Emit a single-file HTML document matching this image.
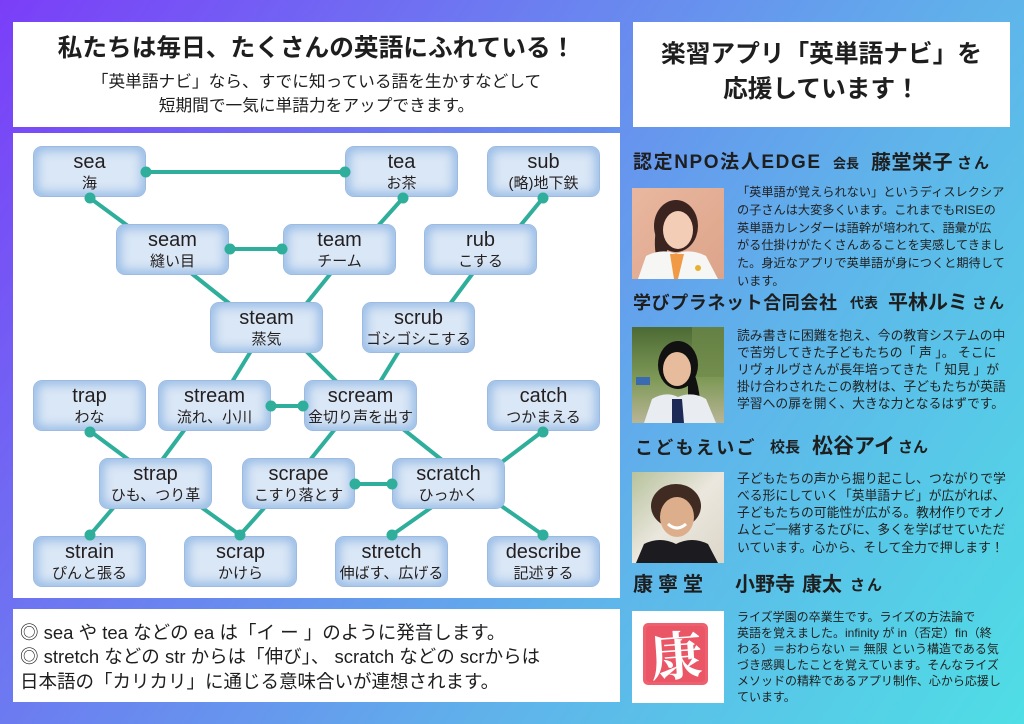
<!DOCTYPE html>
<html lang="ja">
<head>
<meta charset="utf-8">
<style>
*{margin:0;padding:0}
html,body{width:1024px;height:724px;overflow:hidden}
body{position:relative;background:linear-gradient(125deg,#7b3ef8 0%,#6b80f0 36%,#5fb4ea 66%,#4fdee5 100%);font-family:"Liberation Sans","Noto Sans CJK JP",sans-serif;color:#1e1e1e}
.box{position:absolute;background:#fff}
.l{position:absolute;white-space:nowrap;font-family:"Liberation Sans","Noto Sans CJK JP",sans-serif}
.b{font-weight:700}
.c{text-align:center}
.n{position:absolute;width:113px;height:51px;box-sizing:border-box;border:1.5px solid #9dbbe2;border-radius:9px;background:#dae7f6;box-shadow:inset 0 0 10px 4px rgba(146,184,228,.9);text-align:center;color:#231f20;z-index:3}
.n .e{display:block;font:400 20px/22px "Liberation Sans",sans-serif;margin-top:4px}
.n .j{display:block;font:400 15px/20px "Liberation Sans","Noto Sans CJK JP",sans-serif;margin-top:1px}
.p{position:absolute;left:737px;white-space:nowrap;color:#222;font-family:"Liberation Sans","Noto Sans CJK JP",sans-serif}
.ph{position:absolute;left:632px;width:92px}
</style>
</head>
<body>

<!-- top-left title box -->
<div class="box" style="left:13px;top:22px;width:607px;height:105px"></div>
<div class="l b c" style="left:13px;width:607px;top:33px;font-size:24.7px;line-height:32px">私たちは毎日、たくさんの英語にふれている！</div>
<div class="l c" style="left:13px;width:607px;top:70px;font-size:16.7px;line-height:24px">「英単語ナビ」なら、すでに知っている語を生かすなどして</div>
<div class="l c" style="left:13px;width:607px;top:94px;font-size:16.7px;line-height:24px">短期間で一気に単語力をアップできます。</div>

<!-- diagram box -->
<div class="box" style="left:13px;top:133px;width:607px;height:465px"></div>

<svg style="position:absolute;left:0;top:0;z-index:2" width="1024" height="724" viewBox="0 0 1024 724">
<g stroke="#2eae9b" stroke-width="4" stroke-linecap="round" fill="none">
<line x1="146" y1="172" x2="345" y2="172"/>
<line x1="90" y1="198" x2="128" y2="226"/>
<line x1="403" y1="198" x2="378" y2="226"/>
<line x1="543" y1="198" x2="520" y2="226"/>
<line x1="230" y1="249" x2="282" y2="249"/>
<line x1="191" y1="273" x2="230" y2="304"/>
<line x1="331" y1="273" x2="306" y2="304"/>
<line x1="473" y1="273" x2="450" y2="304"/>
<line x1="251" y1="351" x2="232" y2="382"/>
<line x1="306" y1="351" x2="337" y2="382"/>
<line x1="399" y1="351" x2="380" y2="382"/>
<line x1="271" y1="406" x2="303" y2="406"/>
<line x1="90" y1="431" x2="129" y2="460"/>
<line x1="185" y1="429" x2="162" y2="460"/>
<line x1="335" y1="429" x2="310" y2="460"/>
<line x1="403" y1="429" x2="442" y2="460"/>
<line x1="543" y1="431" x2="502" y2="462"/>
<line x1="355" y1="484" x2="392" y2="484"/>
<line x1="114" y1="507" x2="90" y2="535"/>
<line x1="201" y1="507" x2="240" y2="535"/>
<line x1="265" y1="507" x2="240" y2="535"/>
<line x1="432" y1="507" x2="392" y2="535"/>
<line x1="500" y1="505" x2="543" y2="535"/>
</g>
</svg>
<svg style="position:absolute;left:0;top:0;z-index:4" width="1024" height="724" viewBox="0 0 1024 724">
<g fill="#2eae9b">
<circle cx="146" cy="172" r="5.5"/><circle cx="345" cy="172" r="5.5"/>
<circle cx="90" cy="198" r="5.5"/><circle cx="403" cy="198" r="5.5"/><circle cx="543" cy="198" r="5.5"/>
<circle cx="230" cy="249" r="5.5"/><circle cx="282" cy="249" r="5.5"/>
<circle cx="271" cy="406" r="5.5"/><circle cx="303" cy="406" r="5.5"/>
<circle cx="90" cy="432" r="5.5"/><circle cx="543" cy="432" r="5.5"/>
<circle cx="355" cy="484" r="5.5"/><circle cx="392" cy="484" r="5.5"/>
<circle cx="90" cy="535" r="5.5"/><circle cx="240" cy="535" r="5.5"/><circle cx="392" cy="535" r="5.5"/><circle cx="543" cy="535" r="5.5"/>
</g>
</svg>

<!-- nodes -->
<div class="n" style="left:33px;top:146px"><span class="e">sea</span><span class="j">海</span></div>
<div class="n" style="left:345px;top:146px"><span class="e">tea</span><span class="j">お茶</span></div>
<div class="n" style="left:487px;top:146px"><span class="e">sub</span><span class="j">(略)地下鉄</span></div>

<div class="n" style="left:116px;top:224px"><span class="e">seam</span><span class="j">縫い目</span></div>
<div class="n" style="left:283px;top:224px"><span class="e">team</span><span class="j">チーム</span></div>
<div class="n" style="left:424px;top:224px"><span class="e">rub</span><span class="j">こする</span></div>

<div class="n" style="left:210px;top:302px"><span class="e">steam</span><span class="j">蒸気</span></div>
<div class="n" style="left:362px;top:302px"><span class="e">scrub</span><span class="j">ゴシゴシこする</span></div>

<div class="n" style="left:33px;top:380px"><span class="e">trap</span><span class="j">わな</span></div>
<div class="n" style="left:158px;top:380px"><span class="e">stream</span><span class="j">流れ、小川</span></div>
<div class="n" style="left:304px;top:380px"><span class="e">scream</span><span class="j">金切り声を出す</span></div>
<div class="n" style="left:487px;top:380px"><span class="e">catch</span><span class="j">つかまえる</span></div>

<div class="n" style="left:99px;top:458px"><span class="e">strap</span><span class="j">ひも、つり革</span></div>
<div class="n" style="left:242px;top:458px"><span class="e">scrape</span><span class="j">こすり落とす</span></div>
<div class="n" style="left:392px;top:458px"><span class="e">scratch</span><span class="j">ひっかく</span></div>

<div class="n" style="left:33px;top:536px"><span class="e">strain</span><span class="j">ぴんと張る</span></div>
<div class="n" style="left:184px;top:536px"><span class="e">scrap</span><span class="j">かけら</span></div>
<div class="n" style="left:335px;top:536px"><span class="e">stretch</span><span class="j">伸ばす、広げる</span></div>
<div class="n" style="left:487px;top:536px"><span class="e">describe</span><span class="j">記述する</span></div>

<!-- bottom note box -->
<div class="box" style="left:13px;top:609px;width:607px;height:93px"></div>
<div class="l" style="left:20px;top:620.5px;font-size:18.5px;line-height:24.5px">◎ sea や tea などの ea は「イ ー 」のように発音します。<br>◎ stretch などの str からは「伸び」、 scratch などの scrからは<br>日本語の「カリカリ」に通じる意味合いが連想されます。</div>

<!-- right title -->
<div class="box" style="left:633px;top:22px;width:377px;height:105px"></div>
<div class="l b c" style="left:633px;width:377px;top:37px;font-size:24.7px;line-height:36px">楽習アプリ「英単語ナビ」を</div>
<div class="l b c" style="left:633px;width:377px;top:72px;font-size:24.7px;line-height:36px">応援しています！</div>

<!-- name 1 -->
<div class="l b" style="left:633px;top:148px;font-size:19px;line-height:30px;letter-spacing:1.6px">認定NPO法人EDGE</div>
<div class="l b" style="left:833px;top:150px;font-size:13px;line-height:28px">会長</div>
<div class="l b" style="left:871px;top:148px;font-size:20px;line-height:30px;letter-spacing:0.5px">藤堂栄子</div>
<div class="l b" style="left:957px;top:150px;font-size:15px;line-height:28px;letter-spacing:2px">さん</div>

<!-- photo 1 -->
<svg class="ph" style="top:188px" width="92" height="91" viewBox="0 0 92 91">
<defs><linearGradient id="g1" x1="0" y1="0" x2="1" y2="1"><stop offset="0" stop-color="#e9b79f"/><stop offset="1" stop-color="#dca48a"/></linearGradient></defs>
<rect width="92" height="91" fill="url(#g1)"/>
<ellipse cx="44" cy="38" rx="22" ry="26" fill="#3b2420"/>
<path d="M24 40 Q20 70 30 78 L36 60Z" fill="#3b2420"/>
<ellipse cx="46" cy="42" rx="15" ry="19" fill="#f3cdb6"/>
<path d="M6 91 L14 68 Q30 60 44 66 Q58 60 74 68 L86 91Z" fill="#f6f6f4"/>
<path d="M38 66 L52 66 L46 91 L42 91Z" fill="#f19a45"/>
<circle cx="66" cy="80" r="3" fill="#e8b030"/>
</svg>

<!-- name 2 -->
<div class="l b" style="left:633px;top:288px;font-size:18px;line-height:30px;letter-spacing:0.6px">学びプラネット合同会社</div>
<div class="l b" style="left:850px;top:289px;font-size:14px;line-height:28px">代表</div>
<div class="l b" style="left:888px;top:288px;font-size:20px;line-height:30px">平林ルミ</div>
<div class="l b" style="left:972px;top:290px;font-size:15px;line-height:28px;letter-spacing:2px">さん</div>

<!-- photo 2 -->
<svg class="ph" style="top:327px" width="92" height="96" viewBox="0 0 92 96">
<defs><linearGradient id="g2" x1="0" y1="0" x2="0" y2="1"><stop offset="0" stop-color="#4c6a34"/><stop offset=".55" stop-color="#7f9a58"/><stop offset="1" stop-color="#b9b596"/></linearGradient></defs>
<rect width="92" height="96" fill="url(#g2)"/>
<rect x="60" y="0" width="32" height="50" fill="#6f8a4a" opacity=".7"/>
<rect x="4" y="50" width="14" height="8" fill="#3a6ab0"/>
<ellipse cx="46" cy="38" rx="20" ry="24" fill="#111"/>
<path d="M60 40 Q72 70 66 96 L56 96 L56 50Z" fill="#111"/>
<ellipse cx="45" cy="42" rx="14" ry="17" fill="#e6bc9c"/>
<path d="M12 96 L20 72 Q34 64 46 70 Q60 64 74 72 L84 96Z" fill="#e9edf2"/>
<path d="M40 72 L50 72 L52 96 L40 96Z" fill="#1d2a55"/>
</svg>

<!-- name 3 -->
<div class="l b" style="left:635px;top:433px;font-size:18px;line-height:30px;letter-spacing:2.3px">こどもえいご</div>
<div class="l b" style="left:770px;top:434px;font-size:15px;line-height:28px">校長</div>
<div class="l b" style="left:812px;top:432px;font-size:21px;line-height:30px">松谷アイ</div>
<div class="l b" style="left:898px;top:434px;font-size:15px;line-height:28px">さん</div>

<!-- photo 3 -->
<svg class="ph" style="top:472px" width="92" height="91" viewBox="0 0 92 91">
<defs><linearGradient id="g3" x1="0" y1="0" x2="1" y2="1"><stop offset="0" stop-color="#b6c29c"/><stop offset=".5" stop-color="#ebe7de"/><stop offset="1" stop-color="#dcd6c8"/></linearGradient></defs>
<rect width="92" height="91" fill="url(#g3)"/>
<ellipse cx="44" cy="34" rx="25" ry="22" fill="#3f2b22"/>
<ellipse cx="45" cy="45" rx="17" ry="20" fill="#dcae8c"/>
<path d="M36 52 Q45 60 54 52" stroke="#fff" stroke-width="3" fill="none"/>
<path d="M4 91 L12 72 Q28 64 44 72 Q60 64 76 72 L86 91Z" fill="#1c1c20"/>
</svg>

<!-- name 4 -->
<div class="l b" style="left:633px;top:570px;font-size:20px;line-height:30px;letter-spacing:5px">康寧堂</div>
<div class="l b" style="left:735px;top:570px;font-size:20px;line-height:30px">小野寺</div>
<div class="l b" style="left:802px;top:570px;font-size:20px;line-height:30px">康太</div>
<div class="l b" style="left:850px;top:572px;font-size:15px;line-height:28px;letter-spacing:2px">さん</div>

<!-- stamp -->
<svg class="ph" style="top:611px" width="92" height="92" viewBox="0 0 92 92">
<rect width="92" height="92" fill="#fff"/>
<rect x="11" y="12" width="65" height="62" rx="5" fill="#ee6070"/>
<rect x="14" y="15" width="59" height="56" rx="4" fill="#ea5666"/>
<text x="44" y="64" text-anchor="middle" font-family="Noto Serif CJK SC, serif" font-size="52" font-weight="700" fill="#fff" transform="rotate(-4 44 44)">康</text>
</svg>

<!-- paragraphs -->
<div class="p" style="top:184px;font-size:12.2px;line-height:17.8px">「英単語が覚えられない」というディスレクシア<br>の子さんは大変多くいます。これまでもRISEの<br>英単語カレンダーは語幹が培われて、語彙が広<br>がる仕掛けがたくさんあることを実感してきまし<br>た。身近なアプリで英単語が身につくと期待して<br>います。</div>

<div class="p" style="top:326.5px;font-size:12.8px;line-height:17px">読み書きに困難を抱え、今の教育システムの中<br>で苦労してきた子どもたちの「 声 」。 そこに<br>リヴォルヴさんが長年培ってきた「 知見 」が<br>掛け合わされたこの教材は、子どもたちが英語<br>学習への扉を開く、大きな力となるはずです。</div>

<div class="p" style="top:469.7px;font-size:12.8px;line-height:17.2px">子どもたちの声から掘り起こし、つながりで学<br>べる形にしていく「英単語ナビ」が広がれば、<br>子どもたちの可能性が広がる。教材作りでオノ<br>ムとご一緒するたびに、多くを学ばせていただ<br>いています。心から、そして全力で押します！</div>

<div class="p" style="top:609px;font-size:12px;line-height:16px">ライズ学園の卒業生です。ライズの方法論で<br>英語を覚えました。infinity が in（否定）fin（終<br>わる）＝おわらない ＝ 無限 という構造である気<br>づき感興したことを覚えています。そんなライズ<br>メソッドの精粋であるアプリ制作、心から応援し<br>ています。</div>

</body>
</html>
